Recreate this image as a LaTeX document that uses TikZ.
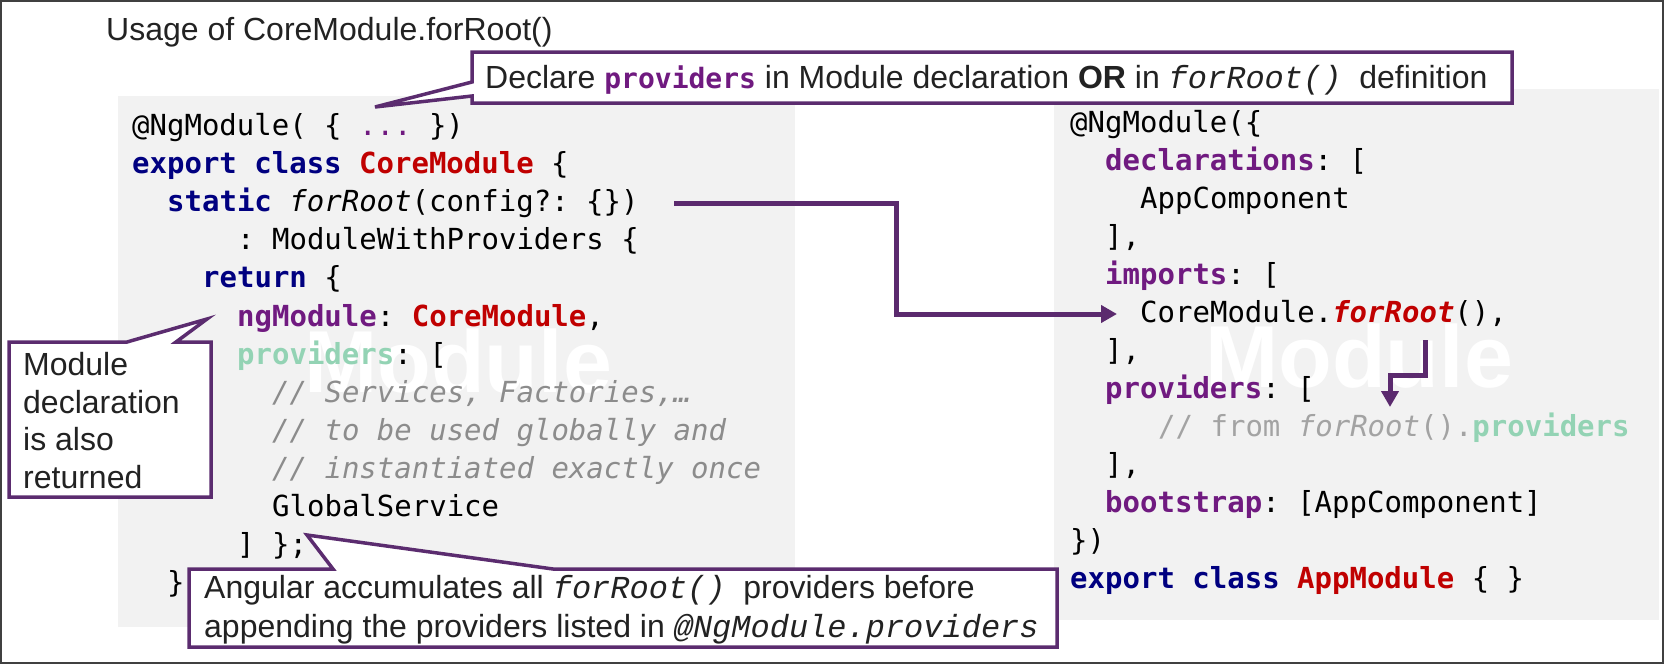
\documentclass[tikz,border=0pt]{standalone}
\usepackage{fontspec}
\setmainfont{Liberation Sans}
\newfontfamily\codefont{DejaVu Sans Mono}
\newfontfamily\courfont{Liberation Mono}
\usetikzlibrary{arrows.meta}
\definecolor{boxgray}{HTML}{F2F2F2}
\definecolor{callpurple}{HTML}{5B2C6F}
\definecolor{arrpurple}{HTML}{5B2A6E}
\definecolor{kwnavy}{HTML}{000080}
\definecolor{typred}{HTML}{C00000}
\definecolor{prpurple}{HTML}{701A80}
\definecolor{provgreen}{HTML}{93D3B4}
\definecolor{cmtgray}{HTML}{8C8C8C}
\definecolor{txt}{HTML}{222222}
\definecolor{framegray}{HTML}{404040}
\newcommand{\ckw}[1]{\textcolor{kwnavy}{\bfseries #1}}
\newcommand{\ctype}[1]{\textcolor{typred}{\bfseries #1}}
\newcommand{\cprop}[1]{\textcolor{prpurple}{\bfseries #1}}
\newcommand{\cgreen}[1]{\textcolor{provgreen}{\bfseries #1}}
\newcommand{\ccomment}[1]{\textcolor{cmtgray}{\itshape #1}}
\newcommand{\courit}[1]{{\courfont\itshape #1}}
\tikzset{
  code/.style={anchor=base west, inner sep=0pt, text=black,
    font=\codefont\fontsize{29}{36}\selectfont\frenchspacing},
  note/.style={anchor=base west, inner sep=0pt, text=txt,
    font=\fontsize{32}{38}\selectfont\frenchspacing},
  callout/.style={draw=callpurple, line width=3.5pt, fill=white},
  flow/.style={draw=arrpurple, line width=5pt,
    -{Triangle[length=16pt,width=17pt]}},
  watermark/.style={anchor=base, inner sep=0pt, text=white,
    font=\bfseries\fontsize{88}{90}\selectfont}
}

\begin{document}
\begin{tikzpicture}[x=1pt,y=-1pt]
\useasboundingbox (0,0) rectangle (1665,664);

% Frame
\draw[framegray, line width=1.5pt] (0.75,0.75) rectangle (1663,663);

% Title
\node[note] (title) at (106,40) {Usage of CoreModule.forRoot()};

% Code backgrounds
\fill[boxgray] (118,96) rectangle (795,627);
\fill[boxgray] (1054,89) rectangle (1659,620);
\node[watermark] (wmL) at (458,392) {Module};
\node[watermark] (wmR) at (1359,387) {Module};

% Left code: CoreModule
\node[code] (l1) at (132,135) {@NgModule( \{ \textcolor{prpurple}{...} \})};
\node[code] (l2) at (132,173) {\ckw{export class} \ctype{CoreModule} \{};
\node[code] (l3) at (167,211) {\ckw{static} \textit{forRoot}(config?: \{\})};
\node[code] (l4) at (237,249) {: ModuleWithProviders \{};
\node[code] (l5) at (202,287) {\ckw{return} \{};
\node[code] (l6) at (237,326) {\cprop{ngModule}: \ctype{CoreModule},};
\node[code] (l7) at (237,364) {\cgreen{providers}: [};
\node[code] (l8) at (272,402) {\ccomment{// Services, Factories,…}};
\node[code] (l9) at (272,440) {\ccomment{// to be used globally and}};
\node[code] (l10) at (272,478) {\ccomment{// instantiated exactly once}};
\node[code] (l11) at (272,516) {GlobalService};
\node[code] (l12) at (237,554) {] \};};
\node[code] (l13) at (167,592) {\}};

% Right code: AppModule
\node[code] (r1) at (1070,132) {@NgModule(\{};
\node[code] (r2) at (1105,170) {\cprop{declarations}: [};
\node[code] (r3) at (1140,208) {AppComponent};
\node[code] (r4) at (1105,246) {],};
\node[code] (r5) at (1105,284) {\cprop{imports}: [};
\node[code] (r6) at (1140,322) {CoreModule.\textcolor{typred}{\bfseries\itshape forRoot}(),};
\node[code] (r7) at (1105,360) {],};
\node[code] (r8) at (1105,398) {\cprop{providers}: [};
\node[code] (r9) at (1158,436) {\textcolor{cmtgray!80}{// from \textit{forRoot}().}\cgreen{providers}};
\node[code] (r10) at (1105,474) {],};
\node[code] (r11) at (1105,512) {\cprop{bootstrap}: [AppComponent]};
\node[code] (r12) at (1070,550) {\})};
\node[code] (r13) at (1070,588) {\ckw{export class} \ctype{AppModule} \{ \}};

% Arrows
\coordinate (fromL) at (674,203);
\coordinate (toR) at (1117,314);
\draw[flow] (fromL) -- ++(222,0) |- (toR);
\coordinate (fromR) at (1425,340);
\coordinate (toProv) at (1390,407);
\draw[flow] (fromR) -- ++(0,35) -| (toProv);

% Callout: providers
\draw[callout] (472,52) -- (1512,52) -- (1512,103) -- (472,103) -- (472,96)
  -- (375,107) -- (472,82) -- cycle;
\node[note] (declare) at (485,88) {Declare {\codefont\bfseries\fontsize{28}{36}\selectfont\color{prpurple}providers} in Module declaration \textbf{OR} in \courit{forRoot()}\ \ definition};

% Callout: module declaration
\draw[callout] (9,342) -- (127,342) -- (207,319) -- (176,342) -- (211,342)
  -- (211,497) -- (9,497) -- cycle;
\node[note] (ret1) at (23,375) {Module};
\node[note] (ret2) at (23,413) {declaration};
\node[note] (ret3) at (23,450) {is also};
\node[note] (ret4) at (23,488) {returned};

% Callout: accumulates
\draw[callout] (189,569) -- (333,569) -- (307,535) -- (553,569) -- (1057,569)
  -- (1057,647) -- (189,647) -- cycle;
\node[note] (acc1) at (204,598) {Angular accumulates all \courit{forRoot()}\ \ providers before};
\node[note] (acc2) at (204,637) {appending the providers listed in \courit{@NgModule.providers}};
\end{tikzpicture}
\end{document}
